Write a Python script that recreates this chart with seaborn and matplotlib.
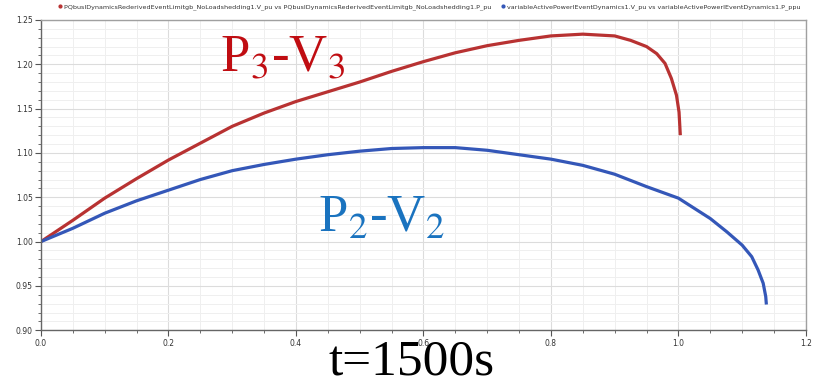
import matplotlib
matplotlib.use("Agg")
import matplotlib.pyplot as plt
from matplotlib.ticker import MultipleLocator
from matplotlib.lines import Line2D
import seaborn as sns
import pandas as pd

# P3-V3 curve (red)
p3 = [0.0, 0.05, 0.10, 0.15, 0.20, 0.25, 0.30, 0.35, 0.40, 0.45, 0.50, 0.55, 0.60,
      0.65, 0.70, 0.75, 0.80, 0.85, 0.90, 0.925, 0.95, 0.966, 0.979, 0.989, 0.997,
      1.001, 1.003]
v3 = [1.000, 1.024, 1.049, 1.071, 1.092, 1.111, 1.130, 1.145, 1.158, 1.169, 1.180, 1.192, 1.203,
      1.213, 1.221, 1.227, 1.232, 1.234, 1.232, 1.227, 1.220, 1.212, 1.201, 1.184, 1.165,
      1.146, 1.120]

# P2-V2 curve (blue)
p2 = [0.0, 0.05, 0.10, 0.15, 0.20, 0.25, 0.30, 0.35, 0.40, 0.45, 0.50, 0.55, 0.60, 0.65,
      0.70, 0.75, 0.80, 0.85, 0.90, 0.95, 1.00, 1.05, 1.076, 1.10, 1.115, 1.125, 1.133,
      1.137, 1.138]
v2 = [1.000, 1.015, 1.032, 1.046, 1.058, 1.070, 1.080, 1.087, 1.093, 1.098, 1.102, 1.105, 1.106, 1.106,
      1.103, 1.098, 1.093, 1.086, 1.076, 1.062, 1.049, 1.026, 1.011, 0.996, 0.983, 0.968, 0.953,
      0.938, 0.929]

lbl3 = "PQbusIDynamicsRederivedEventLimitgb_NoLoadshedding1.V_pu vs PQbusIDynamicsRederivedEventLimitgb_NoLoadshedding1.P_pu"
lbl2 = "variableActivePowerIEventDynamics1.V_pu vs variableActivePowerIEventDynamics1.P_ppu"

df = pd.concat([
    pd.DataFrame({"P": p3, "V": v3, "series": lbl3}),
    pd.DataFrame({"P": p2, "V": v2, "series": lbl2}),
])

sns.set_style("white")
plt.rcParams["mathtext.fontset"] = "stix"

fig = plt.figure(figsize=(8.19, 3.84), dpi=100)
ax = fig.add_axes([0.050, 0.140, 0.934, 0.808])

sns.lineplot(data=df, x="P", y="V", hue="series", sort=False, estimator=None,
             palette={lbl3: "#b83232", lbl2: "#3457b8"}, linewidth=2.3, ax=ax,
             legend=False, solid_joinstyle="round", solid_capstyle="butt")

ax.set_xlim(0, 1.2)
ax.set_ylim(0.90, 1.25)
ax.xaxis.set_major_locator(MultipleLocator(0.2))
ax.xaxis.set_minor_locator(MultipleLocator(0.05))
ax.yaxis.set_major_locator(MultipleLocator(0.05))
ax.yaxis.set_minor_locator(MultipleLocator(0.01))
ax.xaxis.set_major_formatter(plt.FuncFormatter(lambda v, p: f"{v:.1f}"))
ax.yaxis.set_major_formatter(plt.FuncFormatter(lambda v, p: f"{v:.2f}"))
ax.grid(which="major", color="#dcdcdc", lw=0.8)
ax.grid(which="minor", color="#efefef", lw=0.7)
ax.set_axisbelow(True)
ax.tick_params(which="major", direction="out", length=4, width=0.8, color="#555555",
               labelsize=5.5, labelcolor="#333333", bottom=True, left=True, pad=2)
ax.tick_params(which="minor", direction="out", length=2, width=0.6, color="#555555",
               bottom=True, left=True)
ax.set_xlabel("")
ax.set_ylabel("")
for s in ["left", "bottom"]:
    ax.spines[s].set_color("#666666")
    ax.spines[s].set_linewidth(1.0)
for s in ["top", "right"]:
    ax.spines[s].set_color("#a0a0a0")
    ax.spines[s].set_linewidth(1.0)

# legend line at the top
handles = [Line2D([], [], color="#b83232", marker="o", ms=2, lw=0),
           Line2D([], [], color="#3457b8", marker="o", ms=2, lw=0)]
fig.legend(handles, [lbl3, lbl2], loc="upper center", bbox_to_anchor=(0.524, 1.005),
           ncol=2, frameon=False, fontsize=4.6, handletextpad=0.2, columnspacing=1.5,
           handlelength=0.8, labelcolor="#333333")

serif = ["Liberation Serif", "DejaVu Serif"]
ax.text(0.281, 1.192, r"P$_3$-V$_3$", color="#c00d12", fontsize=38, family=serif)
ax.text(0.435, 1.011, r"P$_2$-V$_2$", color="#1a73bf", fontsize=38, family=serif)
fig.text(0.502, 0.026, "t=1500s", color="black", fontsize=37, family=serif, ha="center")

plt.savefig("out.png", dpi=100)
